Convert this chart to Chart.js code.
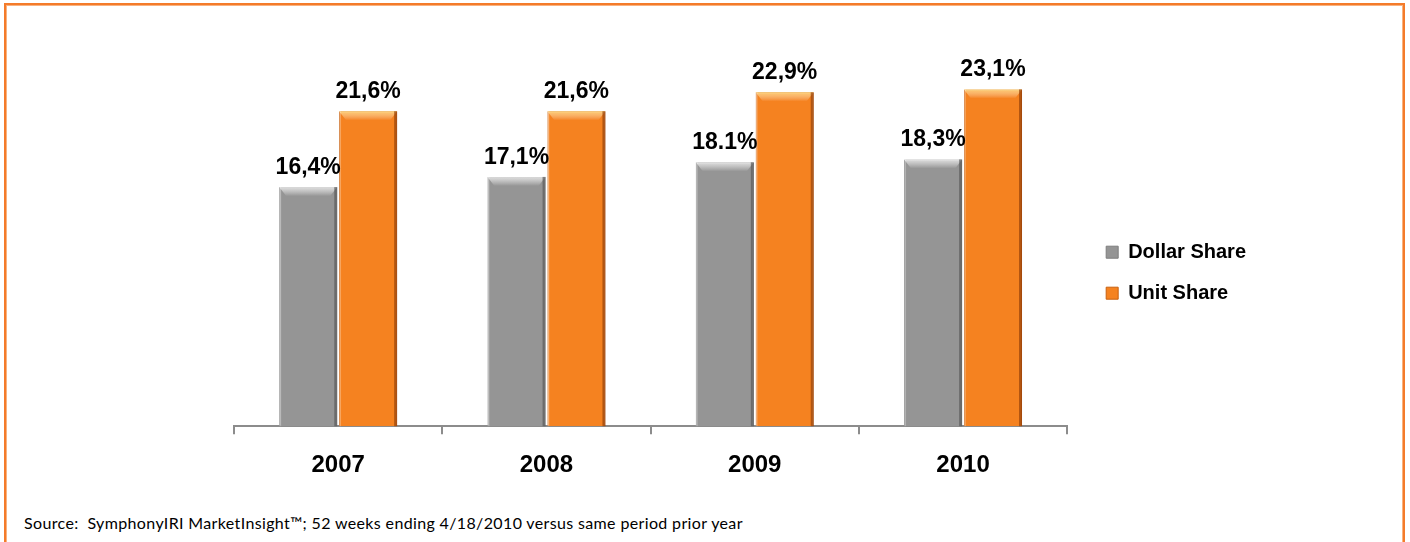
<!DOCTYPE html>
<html>
<head>
<meta charset="utf-8">
<script src="https://cdn.jsdelivr.net/npm/chart.js@4"></script>
<style>
  html, body { margin: 0; padding: 0; background: #fff; overflow: hidden; }
  #frame {
    position: absolute; left: 4px; top: 3px; width: 1397px; height: 600px;
    border: 2px solid #f47b2a; box-shadow: inset 0 0 0 1px #f9b27f;
  }
  #wrap { position: absolute; left: 0; top: 0; width: 1410px; height: 500px; }
  #source {
    position: absolute; left: 24px; top: 513px;
    font-family: Lato, "Open Sans", sans-serif; font-size: 16px; letter-spacing: 0.36px; color: #000;
    white-space: nowrap;
  }
</style>
</head>
<body>
<div id="frame"></div>
<div id="wrap"><canvas id="shareChart"></canvas></div>
<div id="source">Source:&nbsp; SymphonyIRI MarketInsight™; 52 weeks ending 4/18/2010 versus same period prior year</div>
<script>
const years = ['2007', '2008', '2009', '2010'];
const dollarShare = [16.4, 17.1, 18.1, 18.3];
const unitShare = [21.6, 21.6, 22.9, 23.1];
const dollarLabels = ['16,4%', '17,1%', '18.1%', '18,3%'];
const unitLabels = ['21,6%', '21,6%', '22,9%', '23,1%'];

// value labels above the bars
const barLabels = {
    id: 'barLabels',
    afterDatasetsDraw(chart) {
        const ctx = chart.ctx;
        const texts = [dollarLabels, unitLabels];
        ctx.save();
        ctx.font = 'bold 23px "Liberation Sans", Arial, sans-serif';
        ctx.fillStyle = '#000';
        ctx.textAlign = 'center';
        ctx.textBaseline = 'alphabetic';
        chart.data.datasets.forEach((ds, i) => {
            chart.getDatasetMeta(i).data.forEach((bar, j) => {
                ctx.fillText(texts[i][j], bar.x, bar.y - 13);
            });
        });
        ctx.restore();
    }
};

// rough bevel look on the bars
const bevel = {
    id: 'bevel',
    afterDatasetsDraw(chart) {
        const ctx = chart.ctx;
        const shades = [
            { light: 'rgba(235,235,235,0.85)', dark: 'rgba(90,90,90,0.7)' },
            { light: 'rgba(255,214,120,0.85)', dark: 'rgba(150,65,10,0.7)' }
        ];
        ctx.save();
        chart.data.datasets.forEach((ds, i) => {
            chart.getDatasetMeta(i).data.forEach(bar => {
                const l = bar.x - bar.width / 2, r = bar.x + bar.width / 2;
                const t = bar.y, b = bar.base;
                const g = ctx.createLinearGradient(0, t, 0, t + 9);
                g.addColorStop(0, shades[i].light);
                g.addColorStop(1, 'rgba(255,255,255,0)');
                ctx.fillStyle = g;
                ctx.beginPath();
                ctx.moveTo(l, t); ctx.lineTo(r, t);
                ctx.lineTo(r - 7, t + 9); ctx.lineTo(l + 7, t + 9);
                ctx.closePath(); ctx.fill();
                ctx.fillStyle = shades[i].dark;
                ctx.fillRect(r - 3, t, 3, b - t);
                ctx.fillStyle = 'rgba(255,255,255,0.25)';
                ctx.fillRect(l, t, 2, b - t);
            });
        });
        ctx.restore();
    }
};

const ctx = document.getElementById('shareChart').getContext('2d');
new Chart(ctx, {
    type: 'bar',
    data: {
        labels: years,
        datasets: [{
            label: 'Dollar Share',
            data: dollarShare,
            backgroundColor: '#959595',
            borderColor: '#7d7d7d',
            borderWidth: 1,
            categoryPercentage: 0.575,
            barPercentage: 0.97
        }, {
            label: 'Unit Share',
            data: unitShare,
            backgroundColor: '#f58220',
            borderColor: '#c9600f',
            borderWidth: 1,
            categoryPercentage: 0.575,
            barPercentage: 0.97
        }]
    },
    options: {
        responsive: true,
        maintainAspectRatio: false,
        animation: false,
        layout: { padding: { left: 234, right: 154, top: 18, bottom: 3 } },
        scales: {
            x: {
                grid: { display: true, drawOnChartArea: false, drawTicks: true, tickLength: 8, color: '#8c8c8c', lineWidth: 2, offset: true },
                border: { display: true, color: '#8c8c8c', width: 2 },
                ticks: {
                    color: '#000',
                    padding: 17,
                    font: { family: '"Liberation Sans", Arial, sans-serif', size: 24, weight: 'bold' }
                }
            },
            y: {
                position: 'right',
                min: 0,
                max: 28,
                grid: { display: false },
                border: { display: false },
                ticks: { display: false },
                afterFit(scale) { scale.width = 18; }
            }
        },
        plugins: {
            legend: {
                display: true,
                position: 'right',
                title: { display: true, text: '', padding: { top: 0, bottom: 16 }, font: { size: 12 } },
                labels: {
                    boxWidth: 12,
                    boxHeight: 12,
                    padding: 21,
                    color: '#000',
                    font: { family: '"Liberation Sans", Arial, sans-serif', size: 20, weight: 'bold' }
                }
            },
            tooltip: { enabled: false }
        }
    },
    plugins: [bevel, barLabels]
});
</script>
</body>
</html>
